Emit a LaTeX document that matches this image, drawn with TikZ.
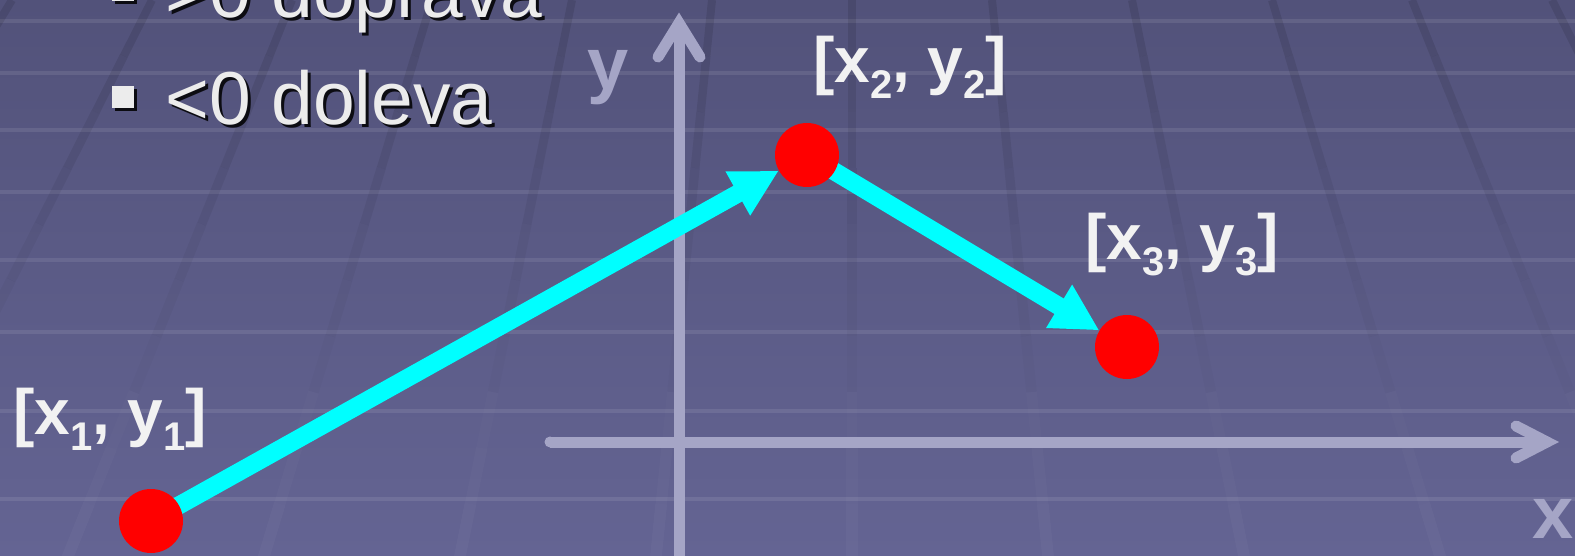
\documentclass[tikz,border=0pt]{standalone}
\usepackage{fontspec}
\setmainfont{Liberation Sans}
\usetikzlibrary{arrows.meta}
\definecolor{bgtop}{RGB}{82,82,122}
\definecolor{bgbot}{RGB}{100,100,147}
\definecolor{axiscol}{RGB}{165,165,198}
\definecolor{lblcol}{RGB}{242,242,242}
\definecolor{txtcol}{RGB}{236,236,236}
\definecolor{dotred}{RGB}{255,0,0}
\definecolor{arrcyan}{RGB}{0,255,255}
\newcommand{\lblsub}[1]{\raisebox{-16pt}{\fontsize{40}{42}\selectfont #1}}
\pgfdeclarelayer{back}\pgfdeclarelayer{mid}\pgfsetlayers{back,mid,main}
\begin{document}
\begin{tikzpicture}[x=1pt,y=-1pt,
  axisline/.style={draw=axiscol,line width=11pt},
  axishead/.style={draw=axiscol,line width=11pt,line cap=round,line join=miter},
  hline/.style={draw=white,draw opacity=0.09,line width=3.5pt},
  vecarrow/.style={draw=arrcyan,line width=18pt,-{Triangle[length=47pt,width=47pt]}},
  reddot/.style={circle,fill=dotred,minimum size=64pt,inner sep=0pt},
  lbl/.style={text=lblcol,font=\fontsize{64}{70}\selectfont\bfseries,inner sep=0pt,anchor=base west},
  axlbl/.style={text=axiscol,font=\fontsize{74}{80}\selectfont\bfseries,inner sep=0pt,anchor=base west},
  btxt/.style={text=txtcol,font=\fontsize{75}{80}\selectfont,inner sep=0pt,anchor=base west},
  bshadow/.style={text=black,text opacity=0.85,font=\fontsize{75}{80}\selectfont,inner sep=0pt,anchor=base west},
  bulletbox/.style={fill=txtcol,minimum size=22pt,inner sep=0pt,anchor=north west},
  bulletshadow/.style={fill=black,fill opacity=0.85,minimum size=22pt,inner sep=0pt,anchor=north west},
]
\useasboundingbox (0,0) rectangle (1575,556);
\begin{pgfonlayer}{back}
\shade[top color=bgtop,bottom color=bgbot] (0,0) rectangle (1575,556);
\foreach \yy in {21,73,130,192,260,332,411,499} \draw[hline] (0,\yy) -- (1575,\yy);
\foreach \k in {-6,...,5} {
  \foreach \s/\op/\col in {0/0.10/black,1/0.09/black,2/0.075/black,3/0.06/black,4/0.045/black,5/0.03/black,6/0.015/black,7/0.015/white,8/0.025/white,9/0.03/white} {
    \pgfmathsetmacro{\ya}{\s*56}
    \pgfmathsetmacro{\yb}{(\s+1)*56}
    \pgfmathsetmacro{\xa}{852+140*\k*((\ya+1390)/1390)}
    \pgfmathsetmacro{\xb}{852+140*\k*((\yb+1390)/1390)}
    \pgfmathsetmacro{\w}{8+\s*0.4}
    \draw[draw=\col,draw opacity=\op,line width=\w pt] (\xa,\ya) -- (\xb,\yb);
  }
}
\coordinate (ybot) at (679,560);
\coordinate (ytip) at (679,23);
\coordinate (xleft) at (550,442);
\coordinate (xtip) at (1547,442);
\draw[axisline] (ybot) -- (ytip);
\draw[axishead] ([shift={(-21,34)}]ytip) -- (ytip) -- ([shift={(21,34)}]ytip);
\draw[axisline] (xleft) -- (xtip);
\fill[axiscol] (xleft) circle (5.5);
\draw[axishead] ([shift={(-31,-16)}]xtip) -- (xtip) -- ([shift={(-31,16)}]xtip);
\end{pgfonlayer}
\node[axlbl] (ylabel) at (587,90) {y};
\node[axlbl] (xlabel) at (1532,538) {x};
\node[reddot] (p1) at (151,521) {};
\node[reddot] (p2) at (807,155) {};
\node[reddot] (p3) at (1127,347) {};
\begin{pgfonlayer}{mid}
\draw[vecarrow] (p1.center) -- (p2);
\draw[vecarrow] (p2.center) -- (p3);
\end{pgfonlayer}
\node[lbl] (l1) at (13,434) {[x\lblsub{1}, y\lblsub{1}]};
\node[lbl] (l2) at (813,83) {[x\lblsub{2}, y\lblsub{2}]};
\node[lbl] (l3) at (1085,260) {[x\lblsub{3}, y\lblsub{3}]};
\node[bulletshadow] (b1s) at (115,-18) {};
\node[bulletbox] (b1) at (112,-21) {};
\node[bulletshadow] (b2s) at (115,89) {};
\node[bulletbox] (b2) at (112,86) {};
\node[bshadow] (t1s) at (168,21) {>0 doprava};
\node[btxt] (t1) at (165,18) {>0 doprava};
\node[bshadow] (t2s) at (168,128) {<0 doleva};
\node[btxt] (t2) at (165,125) {<0 doleva};
\end{tikzpicture}
\end{document}
